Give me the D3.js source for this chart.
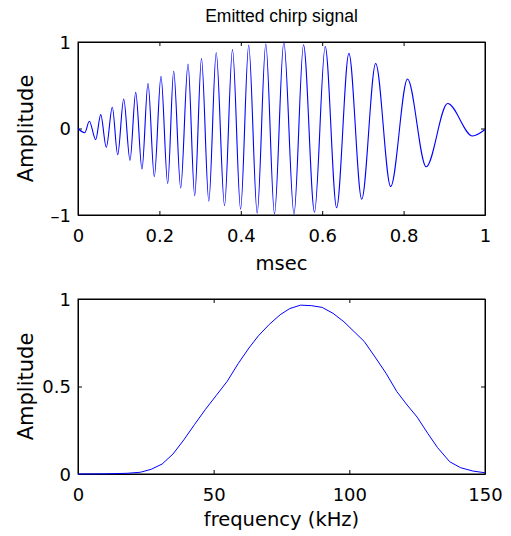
<!DOCTYPE html>
<html>
<head>
<meta charset="utf-8">
<script src="https://cdn.jsdelivr.net/npm/d3@7"></script>
<style>
  body { margin: 0; background: #fff; }
  svg text { font-family: "DejaVu Sans", sans-serif; fill: #000; }
  .axis text { font-size: 18px; }
  .axis line, .axis path { stroke: #000; }
</style>
</head>
<body>
<svg width="511" height="536"></svg>
<script>
// chirp extrema (time in msec, amplitude)
const chirpTime = [0, 0.0165, 0.0278, 0.0435, 0.0558, 0.0695, 0.0843, 0.0975, 0.1123, 0.1278,
  0.1418, 0.1572, 0.172, 0.1875, 0.2039, 0.2204, 0.2351, 0.2523, 0.2703, 0.2867,
  0.3034, 0.3214, 0.3396, 0.36, 0.3796, 0.3995, 0.4194, 0.4403, 0.4614, 0.4828,
  0.5057, 0.5307, 0.5541, 0.5811, 0.6074, 0.6354, 0.6656, 0.6971, 0.7314, 0.7683,
  0.8096, 0.8555, 0.9081, 0.9693, 1];
const chirpAmp = [0, -0.049, 0.083, -0.129, 0.16, -0.217, 0.245, -0.303, 0.341, -0.368,
  0.418, -0.468, 0.523, -0.557, 0.603, -0.638, 0.665, -0.688, 0.746, -0.777,
  0.809, -0.84, 0.876, -0.891, 0.913, -0.933, 0.963, -0.979, 0.977, -0.988,
  0.998, -0.988, 0.968, -0.968, 0.948, -0.916, 0.868, -0.818, 0.751, -0.671,
  0.572, -0.443, 0.289, -0.086, -0.012];

// spectrum (kHz, amplitude)
const freq = [0, 10, 18, 23, 27, 31, 35, 39, 43, 47, 51, 55, 59, 63, 66.5, 70.5, 74.5, 78,
  82, 86, 90, 94, 98, 102, 105.5, 109.5, 113.5, 117.5, 121, 125, 129, 132.5, 137, 141, 145.5, 150];
const specAmp = [0, 0.001, 0.004, 0.01, 0.027, 0.057, 0.114, 0.195, 0.284, 0.37, 0.45, 0.53,
  0.63, 0.72, 0.79, 0.855, 0.91, 0.945, 0.965, 0.962, 0.952, 0.918, 0.87, 0.81, 0.757,
  0.668, 0.576, 0.471, 0.4, 0.325, 0.23, 0.151, 0.07, 0.036, 0.017, 0.007];

const timeTicks = [0, 0.2, 0.4, 0.6, 0.8, 1];
const ampTicks = [-1, 0, 1];
const freqTicks = [0, 50, 100, 150];
const specTicks = [0, 0.5, 1];

const svg = d3.select("svg");
const left = 78, right = 485;

// draws a boxed MATLAB-style axes and returns the scales
function drawAxes(top, bottom, xDom, yDom, xTicks, yTicks, yFmt) {
  const x = d3.scaleLinear().domain(xDom).range([left, right]);
  const y = d3.scaleLinear().domain(yDom).range([bottom, top]);
  const g = svg.append("g");

  g.append("g").attr("class", "axis")
    .attr("transform", `translate(0,${bottom})`)
    .call(d3.axisBottom(x).tickValues(xTicks).tickFormat(d3.format("~g")).tickSize(-4).tickSizeOuter(0))
    .call(s => s.selectAll("text").attr("y", 27).attr("dy", null));
  g.append("g").attr("class", "axis")
    .attr("transform", `translate(0,${top})`)
    .call(d3.axisTop(x).tickValues(xTicks).tickFormat("").tickSize(-4).tickSizeOuter(0));
  g.append("g").attr("class", "axis")
    .attr("transform", `translate(${left},0)`)
    .call(d3.axisLeft(y).tickValues(yTicks).tickFormat(yFmt).tickSize(-4).tickSizeOuter(0))
    .call(s => s.selectAll("text").attr("x", -7).attr("dy", "0.36em"));
  g.append("g").attr("class", "axis")
    .attr("transform", `translate(${right},0)`)
    .call(d3.axisRight(y).tickValues(yTicks).tickFormat("").tickSize(-4).tickSizeOuter(0));

  g.append("rect")
    .attr("x", left).attr("y", top)
    .attr("width", right - left).attr("height", bottom - top)
    .attr("fill", "none").attr("stroke", "#000");
  return { x, y };
}

// top: chirp
const top1 = 42, bot1 = 215;
const a1 = drawAxes(top1, bot1, [0, 1], [-1, 1], timeTicks, ampTicks, d => d < 0 ? "\u2013" + (-d) : d);
const chirp = chirpTime.map((t, i) => [t, chirpAmp[i]]);
svg.append("path")
  .datum(chirp)
  .attr("fill", "none")
  .attr("stroke", "#0000ff")
  .attr("stroke-width", 1.1)
  .attr("d", d3.line().x(d => a1.x(d[0])).y(d => a1.y(d[1])).curve(d3.curveMonotoneX));

svg.append("text").attr("x", (left + right) / 2).attr("y", 22)
  .attr("text-anchor", "middle").attr("font-size", 17.5)
  .style("font-family", "'Liberation Sans', Arial, sans-serif")
  .text("Emitted chirp signal");
svg.append("text").attr("x", (left + right) / 2).attr("y", 270)
  .attr("text-anchor", "middle").attr("font-size", 19.5).text("msec");
svg.append("text").attr("transform", `translate(33,${(top1 + bot1) / 2}) rotate(-90)`)
  .attr("text-anchor", "middle").attr("font-size", 21).text("Amplitude");

// bottom: spectrum
const top2 = 299, bot2 = 474;
const a2 = drawAxes(top2, bot2, [0, 150], [0, 1], freqTicks, specTicks, d3.format("~g"));
const spec = freq.map((f, i) => [f, specAmp[i]]);
svg.append("path")
  .datum(spec)
  .attr("fill", "none")
  .attr("stroke", "#0000ff")
  .attr("stroke-width", 1)
  .attr("d", d3.line().x(d => a2.x(d[0])).y(d => a2.y(d[1])));

svg.append("text").attr("x", (left + right) / 2).attr("y", 526)
  .attr("text-anchor", "middle").attr("font-size", 19.5).text("frequency (kHz)");
svg.append("text").attr("transform", `translate(33,${(top2 + bot2) / 2}) rotate(-90)`)
  .attr("text-anchor", "middle").attr("font-size", 21).text("Amplitude");
</script>
</body>
</html>
